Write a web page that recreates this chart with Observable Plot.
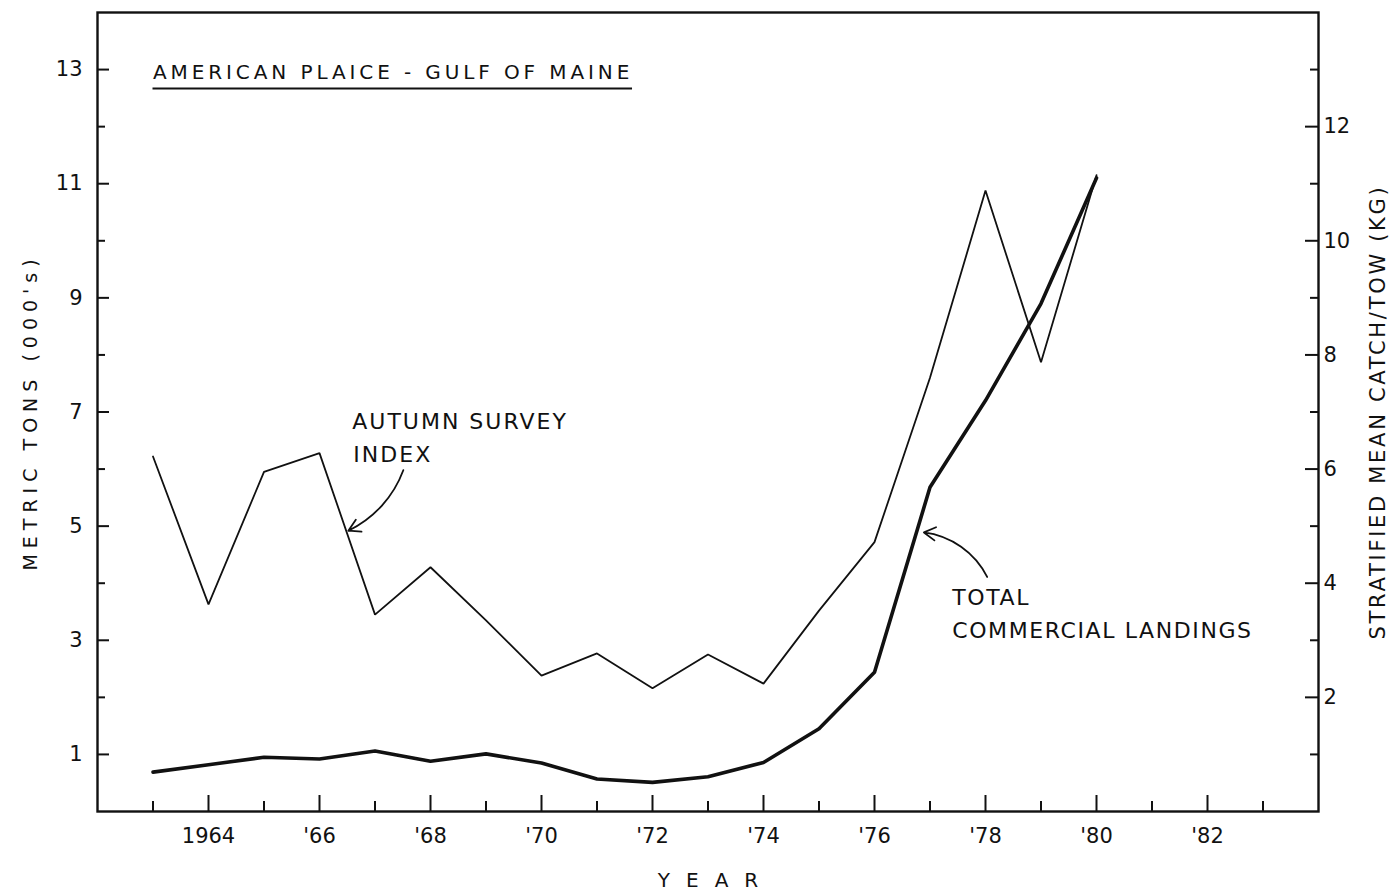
<!DOCTYPE html>
<html>
<head>
<meta charset="utf-8">
<script src="https://cdn.jsdelivr.net/npm/d3@7"></script>
<script src="https://cdn.jsdelivr.net/npm/@observablehq/plot@0.6"></script>
<style>
  body { margin: 0; background: #fff; }
</style>
</head>
<body>
<div id="chart"></div>
<script>
// ---- data ----
const years = [1963, 1964, 1965, 1966, 1967, 1968, 1969, 1970, 1971, 1972, 1973, 1974, 1975, 1976, 1977, 1978, 1979, 1980];
// Autumn survey index, stratified mean catch/tow (kg) - right axis
const surveyIndex = [6.22, 3.63, 5.95, 6.28, 3.45, 4.28, 3.35, 2.38, 2.77, 2.16, 2.75, 2.24, 3.52, 4.72, 7.6, 10.88, 7.87, 11.15];
// Total commercial landings, metric tons (000's) - left axis
const landings = [0.69, 0.82, 0.95, 0.92, 1.06, 0.88, 1.01, 0.85, 0.57, 0.51, 0.61, 0.86, 1.45, 2.44, 5.68, 7.2, 8.9, 11.1];

// axis ticks
const xMajorTicks = [1964, 1966, 1968, 1970, 1972, 1974, 1976, 1978, 1980, 1982];
const xMajorLabels = ["1964", "'66", "'68", "'70", "'72", "'74", "'76", "'78", "'80", "'82"];
const xMinorTicks = [1963, 1965, 1967, 1969, 1971, 1973, 1975, 1977, 1979, 1981, 1983];
const leftMajorTicks = [1, 3, 5, 7, 9, 11, 13];
const leftMinorTicks = [2, 4, 6, 8, 10, 12];
const rightMajorTicks = [2, 4, 6, 8, 10, 12];
const rightMinorTicks = [1, 3, 5, 7, 9, 11, 13];

// text
const titleText = "AMERICAN PLAICE - GULF OF MAINE";
const leftTitle = "METRIC TONS (000's)";
const rightTitle = "STRATIFIED MEAN CATCH/TOW (KG)";
const xTitle = "YEAR";

// annotations (data coordinates: year, value)
const titleAt = {year: 1963.0, value: 12.94};
const underlineAt = {value: 12.67, from: 1963.0, to: 1971.64};
const noteText = ["AUTUMN SURVEY", "INDEX", "TOTAL", "COMMERCIAL LANDINGS"];
const noteYear = [1966.59, 1966.61, 1977.4, 1977.4];
const noteValue = [6.83, 6.24, 3.74, 3.16];
const arrowFromYear = [1967.51, 1978.03];
const arrowFromValue = [5.98, 4.11];
const arrowToYear = [1966.52, 1976.89];
const arrowToValue = [4.92, 4.89];
const arrowBend = [22, -28];

// ---- build tables ----
const table = years.map((y, i) => ({year: y, survey: surveyIndex[i], landings: landings[i]}));
const notes = noteText.map((t, i) => ({text: t, year: noteYear[i], value: noteValue[i]}));
const arrows = arrowFromYear.map((x, i) => ({x1: x, y1: arrowFromValue[i], x2: arrowToYear[i], y2: arrowToValue[i], bend: arrowBend[i]}));

const ink = "#111";
const chart = Plot.plot({
  width: 1392,
  height: 896,
  marginLeft: 97,
  marginRight: 74,
  marginTop: 12,
  marginBottom: 85,
  style: {background: "#fff", color: ink, fontFamily: "'DejaVu Sans', sans-serif"},
  x: {domain: [1962, 1984], label: null},
  y: {domain: [0, 14], label: null},
  marks: [
    Plot.frame({stroke: ink, strokeWidth: 2.4}),
    // left axis
    Plot.axisY(leftMajorTicks, {anchor: "left", tickSize: -12, fill: "none", strokeWidth: 2, label: null}),
    Plot.axisY(leftMinorTicks, {anchor: "left", tickSize: -8, fill: "none", strokeWidth: 2, label: null}),
    Plot.axisY(leftMajorTicks, {anchor: "left", tickSize: 0, tickPadding: 15, fontSize: 21, label: null, tickFormat: d => String(d)}),
    // right axis
    Plot.axisY(rightMajorTicks, {anchor: "right", tickSize: -14, fill: "none", strokeWidth: 2, label: null}),
    Plot.axisY(rightMinorTicks, {anchor: "right", tickSize: -9, fill: "none", strokeWidth: 2, label: null}),
    Plot.axisY(rightMajorTicks, {anchor: "right", tickSize: 0, tickPadding: 5, fontSize: 21, label: null, tickFormat: d => String(d)}),
    // bottom axis
    Plot.axisX(xMajorTicks, {anchor: "bottom", tickSize: -16, fill: "none", strokeWidth: 2, label: null}),
    Plot.axisX(xMinorTicks, {anchor: "bottom", tickSize: -10, fill: "none", strokeWidth: 2, label: null}),
    Plot.axisX(xMajorTicks, {anchor: "bottom", tickSize: 0, tickPadding: 17, fontSize: 21, label: null,
      tickFormat: d => xMajorLabels[xMajorTicks.indexOf(d)]}),
    // axis titles
    Plot.text([leftTitle], {frameAnchor: "left", textAnchor: "middle", dx: -67, dy: 0, rotate: -90, fontSize: 19}),
    Plot.text([rightTitle], {frameAnchor: "right", textAnchor: "middle", dx: 60, rotate: -90, fontSize: 21}),
    Plot.text([xTitle], {frameAnchor: "bottom", dy: 75, dx: 8, fontSize: 20}),
    // series
    Plot.line(table, {x: "year", y: "survey", stroke: ink, strokeWidth: 1.8, strokeLinejoin: "miter"}),
    Plot.line(table, {x: "year", y: "landings", stroke: ink, strokeWidth: 3.6, strokeLinejoin: "round"}),
    // title + underline
    Plot.text([titleText], {x: () => titleAt.year, y: () => titleAt.value, textAnchor: "start", fontSize: 20}),
    Plot.ruleY([underlineAt.value], {x1: underlineAt.from, x2: underlineAt.to, stroke: ink, strokeWidth: 2}),
    // notes + arrows
    Plot.text(notes, {x: "year", y: "value", text: "text", textAnchor: "start", fontSize: 22}),
    Plot.arrow(arrows.slice(0, 1), {x1: "x1", y1: "y1", x2: "x2", y2: "y2", bend: arrows[0].bend, stroke: ink, strokeWidth: 1.8, headLength: 11}),
    Plot.arrow(arrows.slice(1), {x1: "x1", y1: "y1", x2: "x2", y2: "y2", bend: arrows[1].bend, stroke: ink, strokeWidth: 1.8, headLength: 11})
  ]
});

// letter spacing of the hand-lettered labels
const spacing = new Map([
  [titleText, 3.9], [leftTitle, 6], [rightTitle, 2.7], [xTitle, 16],
  ["AUTUMN SURVEY", 2], ["INDEX", 2], ["TOTAL", 1.6], ["COMMERCIAL LANDINGS", 1.6]
]);
d3.select(chart).selectAll("text").each(function () {
  const t = this.textContent;
  if (spacing.has(t)) this.style.letterSpacing = spacing.get(t) + "px";
});
document.getElementById("chart").appendChild(chart);
</script>
</body>
</html>
